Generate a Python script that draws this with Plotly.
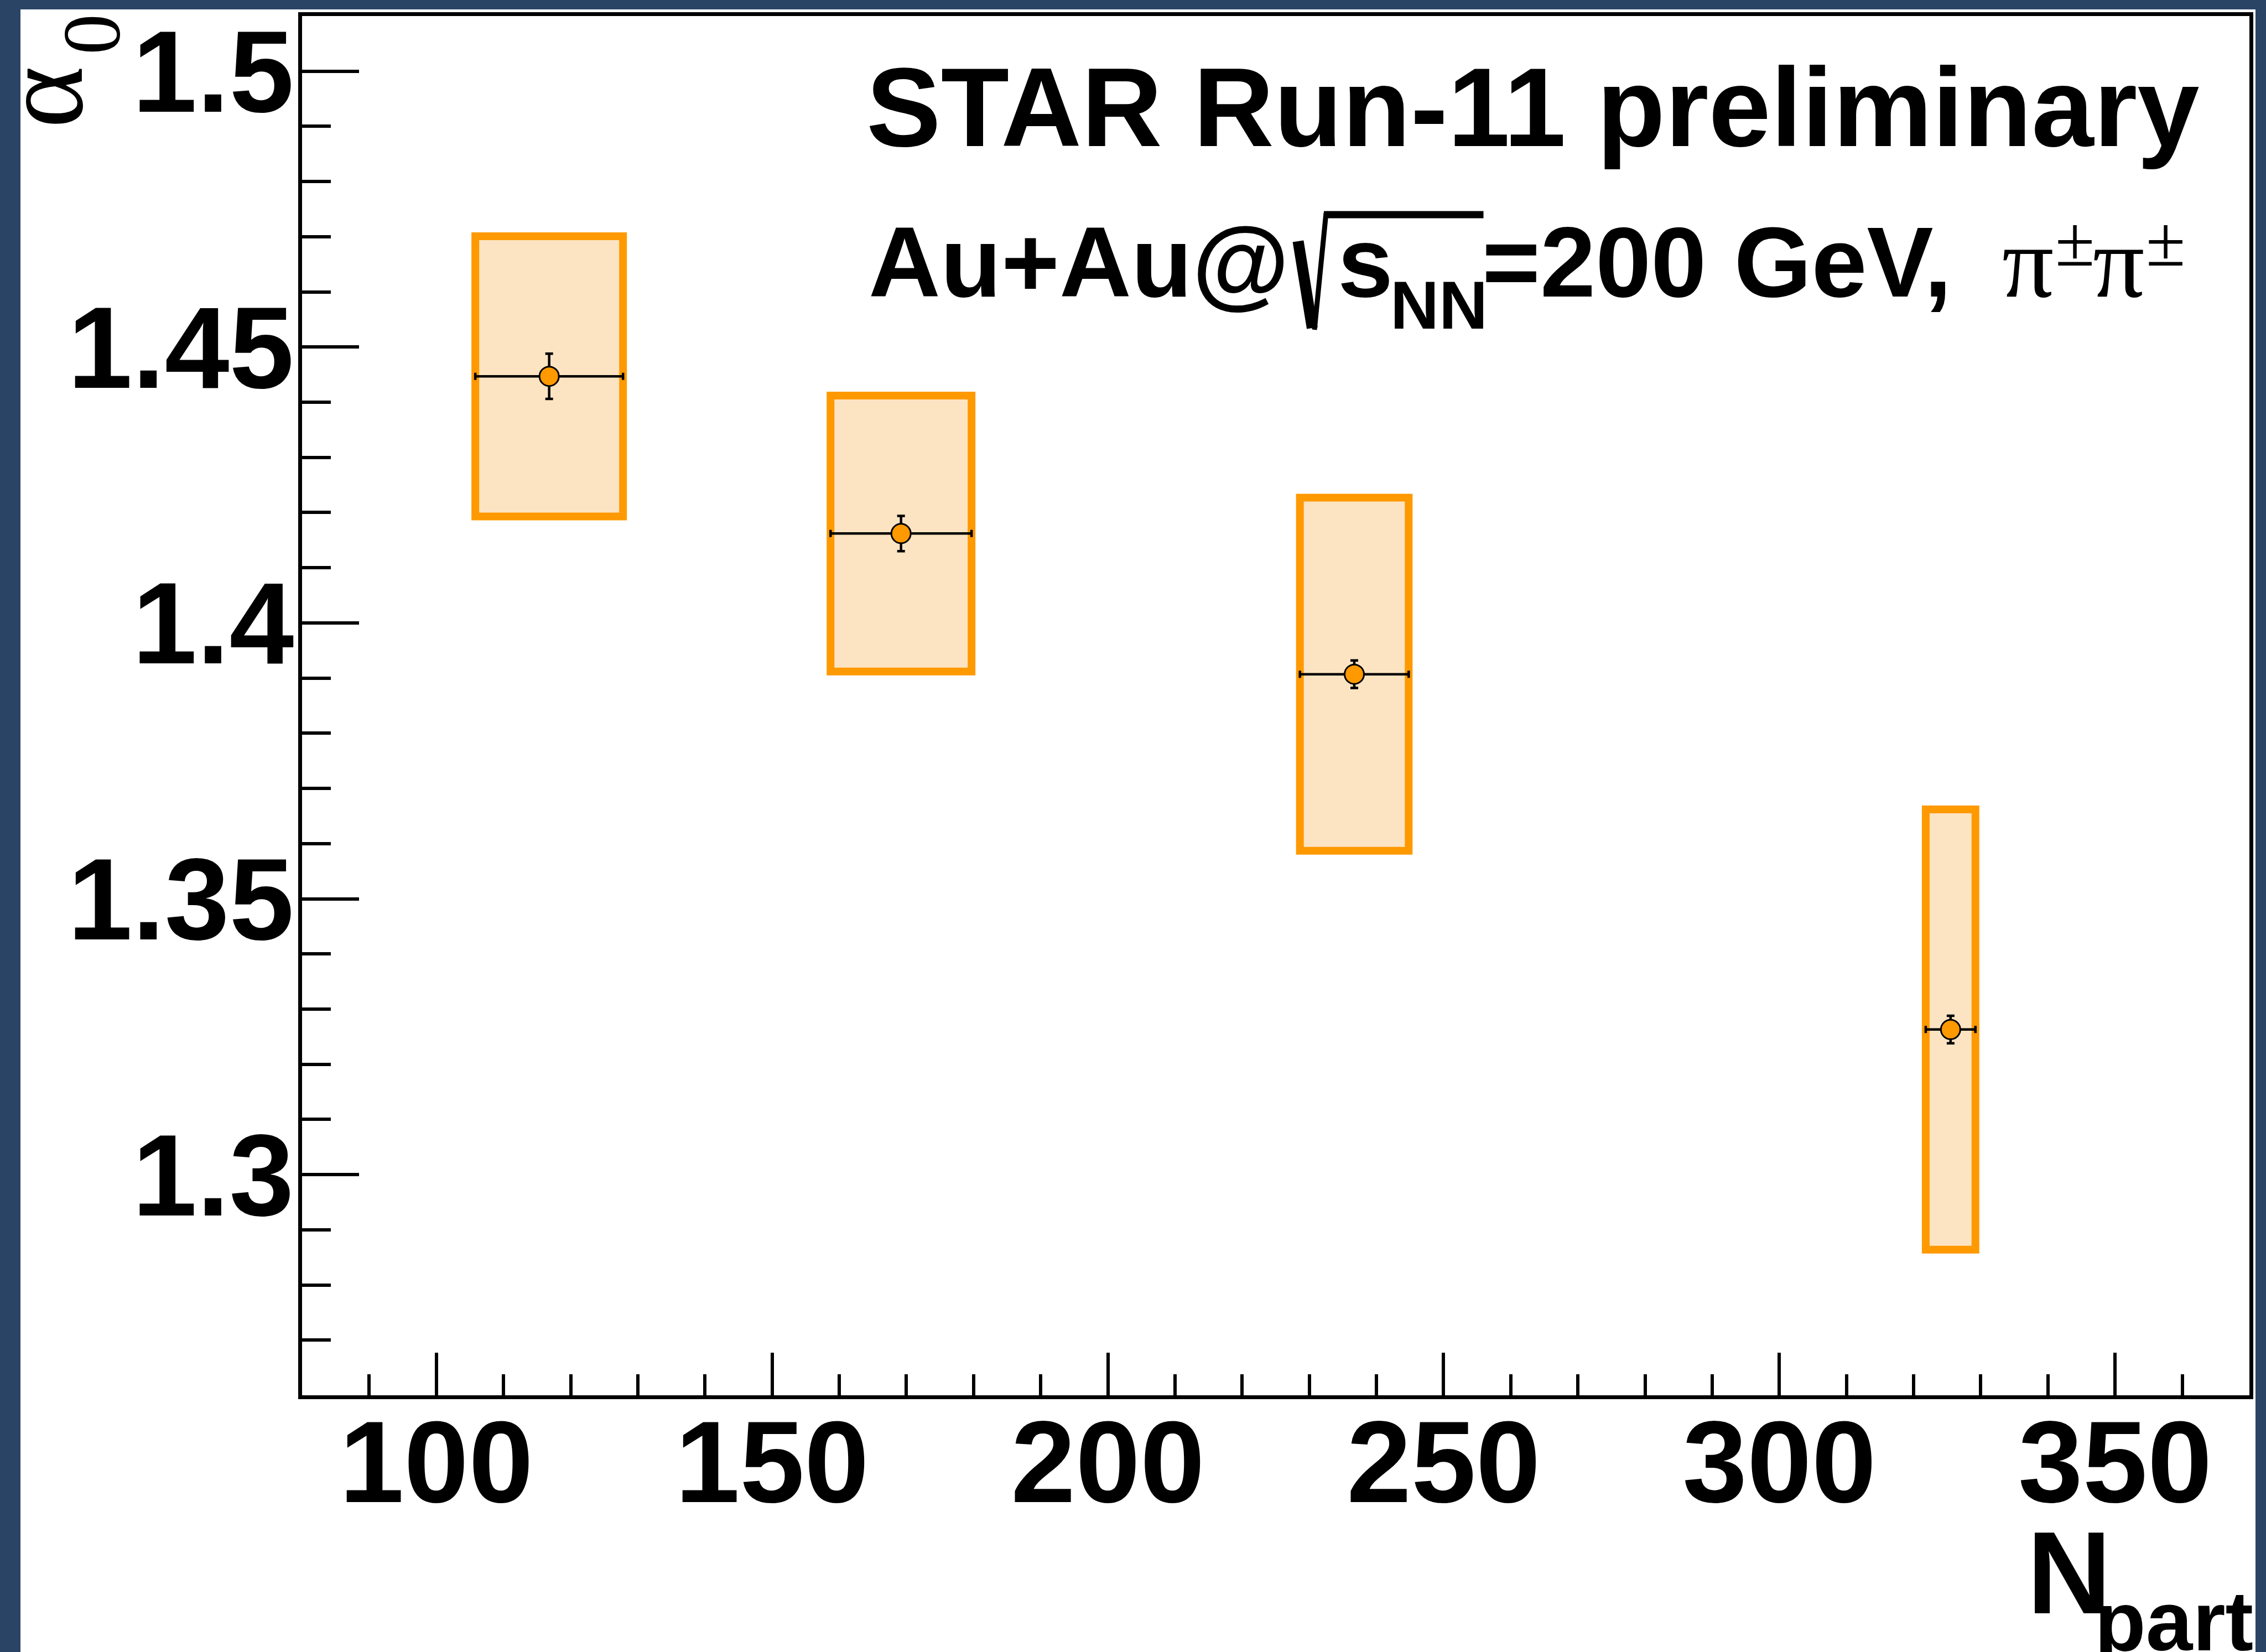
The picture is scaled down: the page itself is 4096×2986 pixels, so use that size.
import plotly.graph_objects as go

# Centrality classes: mean number of participants and its spread
npart = [116.8, 169.2, 236.7, 325.5]
npart_err = [11.0, 10.5, 8.1, 3.7]
# Levy index alpha_0 with statistical and systematic uncertainties
alpha0 = [1.4447, 1.4162, 1.3907, 1.3263]
alpha0_stat = [0.0041, 0.0032, 0.0025, 0.0025]
alpha0_sys = [0.0254, 0.0250, 0.0320, 0.0399]

x_ticks = [100, 150, 200, 250, 300, 350]
x_ticktext = ["100", "150", "200", "250", "300", "350"]
y_ticks = [1.3, 1.35, 1.4, 1.45, 1.5]
y_ticktext = ["1.3", "1.35", "1.4", "1.45", "1.5"]

SANS = "Liberation Sans"
SERIF = "Liberation Serif"
ORANGE = "#FF9900"
BAND = "#FCE4C2"
NAVY = "#2A4466"

# canvas and frame geometry (pixels)
W, H = 4096, 2986
L, R, T, B = 546, 30, 29, 464
PW, PH = W - L - R, H - T - B


def xp(px):
    return (px - L) / PW


def yp(py):
    return 1 - (py - T) / PH


fig = go.Figure()

# systematic uncertainty boxes
for x, dx, y, sy in zip(npart, npart_err, alpha0, alpha0_sys):
    fig.add_shape(type="rect", xref="x", yref="y",
                  x0=x - dx, x1=x + dx, y0=y - sy, y1=y + sy,
                  line=dict(color=ORANGE, width=14), fillcolor=BAND,
                  layer="below")

# points with statistical errors
fig.add_trace(go.Scatter(
    x=npart, y=alpha0, mode="markers",
    marker=dict(symbol="circle", size=35, color=ORANGE,
                line=dict(color="black", width=3)),
    error_x=dict(type="data", array=npart_err, color="black",
                 thickness=4.5, width=6.5),
    error_y=dict(type="data", array=alpha0_stat, color="black",
                 thickness=4.5, width=7),
    showlegend=False, hoverinfo="skip",
))

tickfont = dict(family=SANS, size=210, color="black", weight="bold")
fig.update_xaxes(
    range=[80, 370], showline=True, linecolor="black", linewidth=6.5,
    mirror=True, ticks="inside", ticklen=77, tickwidth=5.5,
    tickcolor="black", tickmode="array", tickvals=x_ticks,
    ticktext=x_ticktext, tickfont=tickfont, showgrid=False,
    zeroline=False, automargin=False, ticklabelstandoff=-66,
    minor=dict(ticks="inside", ticklen=38, tickwidth=5.5,
               tickcolor="black", dtick=10, tick0=0, showgrid=False),
)
fig.update_yaxes(
    range=[1.26, 1.51], showline=True, linecolor="black", linewidth=6.5,
    mirror=True, ticks="inside", ticklen=103, tickwidth=5.5,
    tickcolor="black", tickmode="array", tickvals=y_ticks,
    ticktext=y_ticktext, tickfont=tickfont, showgrid=False,
    zeroline=False, automargin=False, ticklabelstandoff=-34,
    minor=dict(ticks="inside", ticklen=52, tickwidth=5.5,
               tickcolor="black", dtick=0.01, tick0=0, showgrid=False),
)


def label(text, x, y, size, xanchor, yanchor, family=SANS,
          weight="bold", angle=0):
    fig.add_annotation(
        text=text, xref="paper", yref="paper", x=xp(x), y=yp(y),
        xanchor=xanchor, yanchor=yanchor, showarrow=False,
        textangle=angle, borderpad=0, borderwidth=0,
        font=dict(family=family, size=size, color="black", weight=weight),
    )


# header text
label("STAR Run-11 preliminary", 1566, 307, 202, "left", "bottom")
label("Au+Au@", 1570, 574, 180, "left", "bottom")
label("s", 2418, 574, 180, "left", "bottom")
label("NN", 2513, 620, 122, "left", "bottom")
label("=200 GeV,", 2679, 574, 180, "left", "bottom")
# pion pair with charge superscripts
for px_pi, px_pm in [(3619, 3715), (3783, 3879)]:
    label("π", px_pi, 576, 185, "left", "bottom", family=SERIF,
          weight="normal")
    label("±", px_pm, 508, 130, "left", "bottom", family=SERIF,
          weight="normal")

# square-root sign over s_NN
fig.add_shape(type="line", xref="paper", yref="paper",
              x0=xp(2346.5), y0=yp(436), x1=xp(2372), y1=yp(593),
              line=dict(color="black", width=20))
fig.add_shape(type="path", xref="paper", yref="paper",
              path=f"M {xp(2376)},{yp(596)} L {xp(2397)},{yp(385)}",
              line=dict(color="black", width=9))
fig.add_shape(type="line", xref="paper", yref="paper",
              x0=xp(2393), y0=yp(388), x1=xp(2681.5), y1=yp(388),
              line=dict(color="black", width=13))

# axis titles
label("α", 195, 232, 215, "right", "bottom", family=SERIF,
      weight="normal", angle=-90)
label("0", 248, 25, 148, "right", "top", family=SERIF,
      weight="normal", angle=-90)
label("N", 3664, 2961, 211, "left", "bottom")
label("part", 4073, 3015, 152, "right", "bottom")

# dark frame around the canvas
for x0, x1, y0, y1 in [(0, 37, 0, H), (0, W, 0, 17), (4077, W, 0, H)]:
    fig.add_shape(type="rect", xref="paper", yref="paper",
                  x0=xp(x0), x1=xp(x1), y0=yp(y1), y1=yp(y0),
                  line=dict(width=0), fillcolor=NAVY, layer="above")

fig.update_layout(
    template="none", width=W, height=H,
    margin=dict(l=L, r=R, t=T, b=B, pad=0),
    paper_bgcolor="white", plot_bgcolor="white",
    showlegend=False,
)

fig.write_html("out.html")
